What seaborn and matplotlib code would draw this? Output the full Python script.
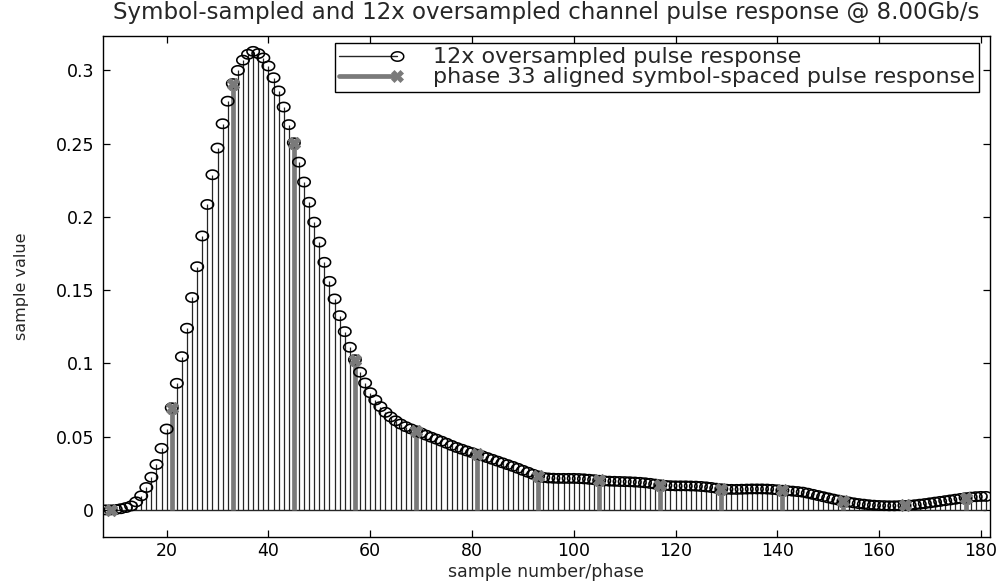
import numpy as np
import pandas as pd
import matplotlib
matplotlib.use("Agg")
import matplotlib.pyplot as plt
import seaborn as sns
from matplotlib.lines import Line2D
from matplotlib.path import Path
from matplotlib.legend_handler import HandlerLine2D

# ---------------- data ----------------
sample_start = 8
pulse_values = [
    0.0, 0.0, 0.0003, 0.0008, 0.0016, 0.0027, 0.0055, 0.0096, 0.0153, 0.0223,   # 8-17
    0.031, 0.042, 0.0552, 0.0697, 0.0864, 0.1046, 0.124, 0.145, 0.166, 0.187,    # 18-27
    0.2085, 0.2288, 0.247, 0.2636, 0.279, 0.291, 0.300, 0.307, 0.311, 0.3130,    # 28-37
    0.3115, 0.3085, 0.303, 0.295, 0.286, 0.275, 0.263, 0.2506, 0.2374, 0.2238,   # 38-47
    0.210, 0.1964, 0.1828, 0.169, 0.156, 0.144, 0.1326, 0.1217, 0.111, 0.1025,   # 48-57
    0.094, 0.0866, 0.080, 0.075, 0.0705, 0.0666, 0.0635, 0.0608, 0.0586, 0.0568, # 58-67
    0.0553, 0.054, 0.0525, 0.0510, 0.0496, 0.0483, 0.0469, 0.0455, 0.0440, 0.0426, # 68-77
    0.0414, 0.0402, 0.0391, 0.0380, 0.0369, 0.0357, 0.0345, 0.0333, 0.0321, 0.0309, # 78-87
    0.0297, 0.0284, 0.0270, 0.0257, 0.0243, 0.0232, 0.0222, 0.0218, 0.0216, 0.0215, # 88-97
    0.0215, 0.0215, 0.0215, 0.0214, 0.0212, 0.0209, 0.0206, 0.0202, 0.0198, 0.0196, # 98-107
    0.0195, 0.0194, 0.0193, 0.0192, 0.0190, 0.0188, 0.0185, 0.0181, 0.0176, 0.0171, # 108-117
    0.0167, 0.0165, 0.0164, 0.0164, 0.0164, 0.0163, 0.0162, 0.0160, 0.0157, 0.0153, # 118-127
    0.0148, 0.0144, 0.0141, 0.0140, 0.0140, 0.0141, 0.0142, 0.0143, 0.0143, 0.0143, # 128-137
    0.0142, 0.0140, 0.0137, 0.0134, 0.0131, 0.0128, 0.0125, 0.0121, 0.0114, 0.0106, # 138-147
    0.0098, 0.0090, 0.0082, 0.0074, 0.0067, 0.0060, 0.0054, 0.0048, 0.0043, 0.0039, # 148-157
    0.0035, 0.0032, 0.0030, 0.0029, 0.0028, 0.0028, 0.0029, 0.0030, 0.0032, 0.0035, # 158-167
    0.0039, 0.0043, 0.0048, 0.0053, 0.0058, 0.0063, 0.0068, 0.0073, 0.0078, 0.0083, # 168-177
    0.0087, 0.0090, 0.0092, 0.0092,                                                 # 178-181
]
symbol_phase = 9          # phase 33 -> 33 mod 12
oversampling = 12
x_ticks = [20, 40, 60, 80, 100, 120, 140, 160, 180]
y_ticks = [0, 0.05, 0.1, 0.15, 0.2, 0.25, 0.3]
y_tick_labels = ["0", "0.05", "0.1", "0.15", "0.2", "0.25", "0.3"]
title = "Symbol-sampled and 12x oversampled channel pulse response @ 8.00Gb/s"
x_label = "sample number/phase"
y_label = "sample value"
legend_labels = ["12x oversampled pulse response",
                 "phase 33 aligned symbol-spaced pulse response"]

over = pd.DataFrame({"sample": np.arange(sample_start, sample_start + len(pulse_values)),
                     "value": pulse_values})
sym = over[(over["sample"] - symbol_phase) % oversampling == 0]

# ---------------- style ----------------
sns.set_style("ticks")
plt.rcParams["font.family"] = ["DejaVu Sans"]

fig = plt.figure(figsize=(10.04, 5.83), dpi=100)
ax_l, ax_r, ax_t, ax_b = 102.7, 990.0, 36.0, 536.7
ax = fig.add_axes([ax_l / 1004, 1 - ax_b / 583, (ax_r - ax_l) / 1004, (ax_b - ax_t) / 583])
ax_w, ax_h = ax_r - ax_l, ax_b - ax_t

# ellipse-ish open circle marker (reference is horizontally stretched)
theta = np.linspace(0, 2 * np.pi, 60)
ell = Path(np.column_stack([np.cos(theta), 0.75 * np.sin(theta)]))

thin_col = "#262626"
thick_col = "#7a7a7a"

# thin stems for oversampled response
ax.vlines(over["sample"], 0, over["value"], color=thin_col, lw=0.9, zorder=2)
# baseline
ax.hlines(0, over["sample"].min(), over["sample"].max(), color=thin_col, lw=1.0, zorder=2)
# thick stems for symbol-spaced
ax.vlines(sym["sample"], 0, sym["value"], color=thick_col, lw=3.4, zorder=3)

sns.scatterplot(data=over, x="sample", y="value", marker=ell, s=80,
                facecolor="none", edgecolor="black", linewidth=1.15, ax=ax, zorder=4)
sns.scatterplot(data=sym, x="sample", y="value", marker="X", s=75,
                color=thick_col, edgecolor=thick_col, linewidth=0.8, ax=ax, zorder=5)

ax.set_xlim(7.43, 181.8)
ax.set_ylim(-0.0183, 0.3235)
ax.set_xticks(x_ticks)
ax.set_yticks(y_ticks)
ax.set_yticklabels(y_tick_labels)
ax.tick_params(direction="in", length=5, width=0.9, top=True, right=True,
               labelsize=12.5, colors="black")
ax.tick_params(axis="x", pad=3.5)
ax.tick_params(axis="y", pad=6)
for s in ax.spines.values():
    s.set_visible(True)
    s.set_color("black")
    s.set_linewidth(1.0)

ax.set_xlabel(x_label, fontsize=12.5)
ax.xaxis.set_label_coords(0.5, (ax_b - 563) / ax_h)
ax.set_ylabel(y_label, fontsize=11.5)
ax.yaxis.set_label_coords((29 - ax_l) / ax_w, 0.5)
ax.set_title(title, fontsize=16.5, pad=12)


class StemHandler(HandlerLine2D):
    def create_artists(self, legend, orig_handle, xdescent, ydescent,
                       width, height, fontsize, trans):
        y = (height - ydescent) / 2
        x0, x1 = -xdescent, -xdescent + width
        line = Line2D([x0, x1], [y, y], color=orig_handle.get_color(),
                      lw=orig_handle.get_linewidth())
        mk = Line2D([x1], [y], linestyle="none", marker=orig_handle.get_marker(),
                    markersize=orig_handle.get_markersize(),
                    markerfacecolor=orig_handle.get_markerfacecolor(),
                    markeredgecolor=orig_handle.get_markeredgecolor(),
                    markeredgewidth=orig_handle.get_markeredgewidth())
        line.set_transform(trans)
        mk.set_transform(trans)
        return [line, mk]


h1 = Line2D([], [], color=thin_col, lw=1.0, marker=ell, markersize=9,
            markerfacecolor="none", markeredgecolor="black", markeredgewidth=1.1)
h2 = Line2D([], [], color=thick_col, lw=3.4, marker="X", markersize=9,
            markerfacecolor=thick_col, markeredgecolor=thick_col, markeredgewidth=0.5)
leg = ax.legend([h1, h2], legend_labels, handler_map={Line2D: StemHandler()},
                loc="upper right", bbox_to_anchor=(979 / 1004, 1 - 43 / 583),
                bbox_transform=fig.transFigure, fontsize=16, frameon=True,
                fancybox=False, edgecolor="black", framealpha=1, borderpad=0.2,
                labelspacing=0.0, handlelength=2.6, handletextpad=1.6,
                borderaxespad=0)
leg.get_frame().set_linewidth(1.0)

fig.savefig("out.png", dpi=100)
